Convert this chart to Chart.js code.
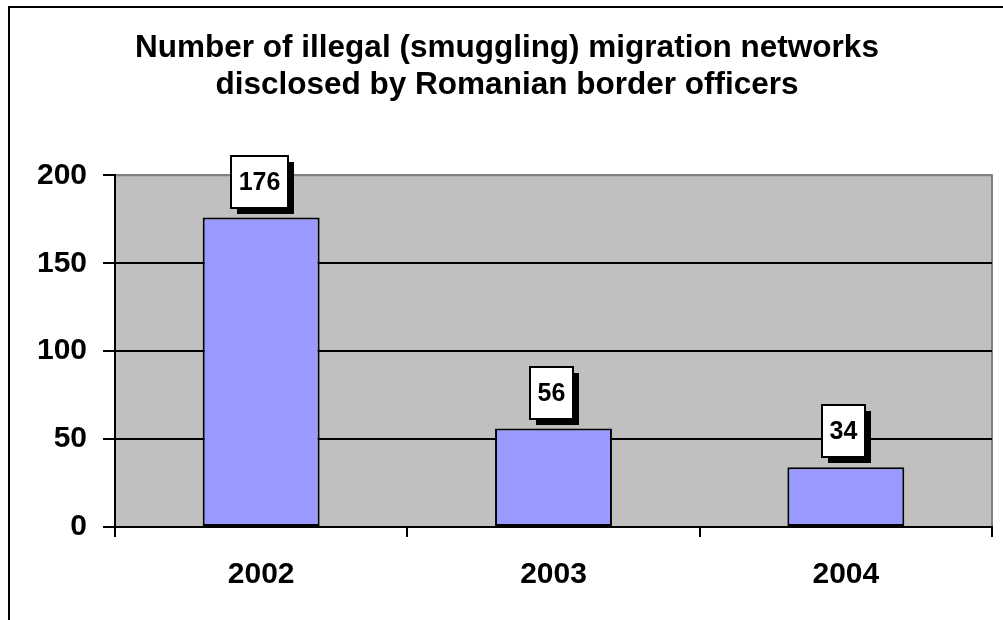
<!DOCTYPE html>
<html>
<head>
<title>Illegal migration networks</title>
<script src="https://cdn.jsdelivr.net/npm/chart.js"></script>
<style>
  body { margin:0; background:#fff; }
  #wrap { width:1003px; height:620px; }
</style>
</head>
<body>
<div id="wrap"><canvas id="barChart" width="1003" height="620"></canvas></div>
<script>
var years = ["2002", "2003", "2004"];
var networks = [176, 56, 34];
var yTicks = [0, 50, 100, 150, 200];
var titleLines = ["Number of illegal (smuggling) migration networks", "disclosed by Romanian border officers"];

var FONT = '"Liberation Sans", Arial, sans-serif';

// frame round the picture + gray plot background
var backPlugin = {
  id: 'back',
  beforeDraw: function(chart) {
    var c = chart.ctx, a = chart.chartArea;
    c.save();
    c.fillStyle = '#fff';
    c.fillRect(0, 0, chart.width, chart.height);
    c.strokeStyle = '#000';
    c.lineWidth = 2;
    c.strokeRect(9, 7, chart.width + 20, chart.height + 20);
    c.fillStyle = '#C0C0C0';
    c.fillRect(a.left, a.top, a.right - a.left, a.bottom - a.top);
    c.strokeStyle = '#808080';
    c.beginPath();
    c.moveTo(a.left, a.top);
    c.lineTo(a.right, a.top);
    c.lineTo(a.right, a.bottom);
    c.stroke();
    c.restore();
  }
};

// value boxes with a shadow, above each bar
var labelPlugin = {
  id: 'valueBoxes',
  afterDatasetsDraw: function(chart) {
    var c = chart.ctx;
    var meta = chart.getDatasetMeta(0);
    c.save();
    c.font = 'bold 25px ' + FONT;
    c.textAlign = 'center';
    c.textBaseline = 'middle';
    meta.data.forEach(function(bar, i) {
      var txt = String(networks[i]);
      var w = Math.round(c.measureText(txt).width) + 15;
      var h = 52;
      var x = Math.round(bar.x - w / 2) - 2;
      var y = Math.round(bar.y) - 10 - h;
      c.fillStyle = '#000';
      c.fillRect(x + 6, y + 6, w, h);
      c.fillStyle = '#fff';
      c.fillRect(x, y, w, h);
      c.strokeStyle = '#000';
      c.lineWidth = 2;
      c.strokeRect(x, y, w, h);
      c.fillStyle = '#000';
      c.fillText(txt, x + w / 2, y + h / 2 + 1);
    });
    c.restore();
  }
};

var ctx = document.getElementById('barChart').getContext('2d');
new Chart(ctx, {
  type: 'bar',
  data: {
    labels: years,
    datasets: [{
      data: networks,
      backgroundColor: '#9999FF',
      borderColor: '#000',
      borderWidth: 2,
      borderSkipped: false,
      categoryPercentage: 1,
      barPercentage: 0.4
    }]
  },
  options: {
    responsive: false,
    animation: false,
    layout: { padding: { left: 22, right: 11, top: 7, bottom: 0 } },
    plugins: {
      legend: { display: false },
      tooltip: { enabled: false },
      title: {
        display: true,
        text: titleLines,
        color: '#000',
        font: { family: FONT, size: 31.5, weight: 'bold', lineHeight: 1.18 },
        padding: { top: 23, bottom: 71 }
      }
    },
    scales: {
      x: {
        afterFit: function(s) { s.height = 93; },
        grid: { display: true, drawOnChartArea: false, color: '#000', lineWidth: 2, tickLength: 10, offset: true },
        border: { color: '#000', width: 2 },
        ticks: { color: '#000', padding: 20, font: { family: FONT, size: 30, weight: 'bold' } }
      },
      y: {
        min: 0,
        max: 200,
        afterFit: function(s) { s.width = 93; },
        afterBuildTicks: function(s) { s.ticks = yTicks.map(function(v) { return { value: v }; }); },
        grid: {
          color: function(c) { return c.tick && c.tick.value === 200 ? '#808080' : '#000'; },
          tickColor: '#000',
          lineWidth: 2,
          tickLength: 12
        },
        border: { color: '#000', width: 2 },
        ticks: { color: '#000', padding: 16, font: { family: FONT, size: 30, weight: 'bold' } }
      }
    }
  },
  plugins: [backPlugin, labelPlugin]
});
</script>
</body>
</html>
